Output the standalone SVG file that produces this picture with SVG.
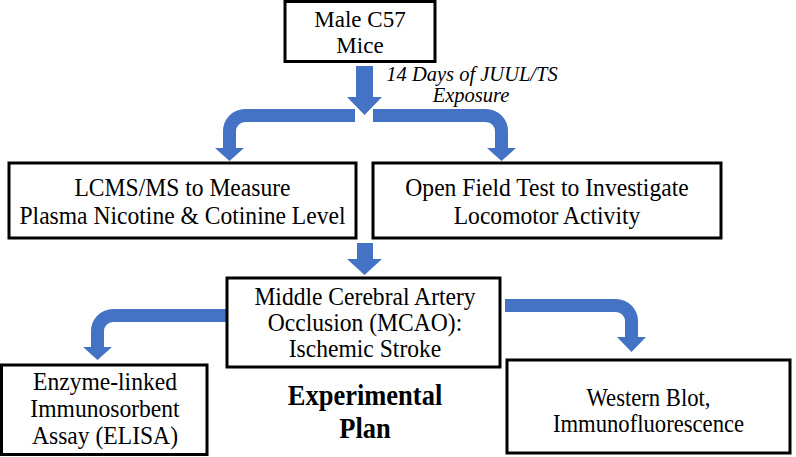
<svg xmlns="http://www.w3.org/2000/svg" width="796" height="457" viewBox="0 0 796 457">
<style>
.box{fill:#fff;stroke:#000;stroke-width:3}
.arr{fill:#4472C4;stroke:none}
text{font-family:'Liberation Serif','Times New Roman',Times,serif;fill:#000;text-anchor:middle}
.t{font-size:25.5px}
.w{font-size:24.5px}
.top{font-size:23px}
.it{font-size:20.5px;font-style:italic}
.b{font-size:28.5px;font-weight:bold}
</style>
<rect width="796" height="457" fill="#fff"/>
<g id="connectors">
<path class="arr" d="M356,66 H373 V97 H382 L364.5,115 L347,97 H356 Z"/>
<path class="arr" d="M355,109 H245 A22,22 0 0 0 223,131 V148 H215 L229.5,161 L244,148 H236 V131 A9,9 0 0 1 245,122 H355 Z"/>
<path class="arr" d="M373,109 H486 A22,22 0 0 1 508,131 V148 H516 L501.5,161 L487,148 H495 V131 A9,9 0 0 0 486,122 H373 Z"/>
<path class="arr" d="M357,243 H373 V259 H382 L364.5,275 L347,259 H357 Z"/>
<path class="arr" d="M227,309 H113 A22,22 0 0 0 91,331 V347 H83 L97.5,360 L112,347 H104 V331 A9,9 0 0 1 113,322 H227 Z"/>
<path class="arr" d="M505,299 H616 A22,22 0 0 1 638,321 V337 H646 L631.5,352 L617,337 H625 V321 A9,9 0 0 0 616,312 H505 Z"/>
<text class="it" x="472" y="81">14 Days of JUUL/TS</text>
<text class="it" x="471" y="102">Exposure</text>
</g>
<g id="mice">
<rect class="box" x="285" y="1.5" width="150" height="60"/>
<text class="top" x="360" y="27">Male C57</text>
<text class="top" x="360" y="53">Mice</text>
</g>
<g id="lcms">
<rect class="box" x="9" y="163" width="347" height="75"/>
<text class="t" transform="translate(182.5,196) scale(0.925,1)">LCMS/MS to Measure</text>
<text class="t" transform="translate(182.5,224) scale(0.925,1)">Plasma Nicotine &amp; Cotinine Level</text>
</g>
<g id="openfield">
<rect class="box" x="373" y="163" width="348" height="75"/>
<text class="t" transform="translate(547,196) scale(0.925,1)">Open Field Test to Investigate</text>
<text class="t" transform="translate(547,224) scale(0.925,1)">Locomotor Activity</text>
</g>
<g id="mcao">
<rect class="box" x="227" y="278" width="273" height="89"/>
<text class="t" transform="translate(365,305) scale(0.925,1)">Middle Cerebral Artery</text>
<text class="t" transform="translate(365,331) scale(0.925,1)">Occlusion (MCAO):</text>
<text class="t" transform="translate(365,357) scale(0.925,1)">Ischemic Stroke</text>
</g>
<g id="elisa">
<rect class="box" x="1.5" y="365" width="205.5" height="89.5"/>
<text class="t" transform="translate(105,390) scale(0.925,1)">Enzyme-linked</text>
<text class="t" transform="translate(105,417) scale(0.925,1)">Immunosorbent</text>
<text class="t" transform="translate(105,444) scale(0.925,1)">Assay (ELISA)</text>
</g>
<g id="western">
<rect class="box" x="507" y="360" width="283" height="93"/>
<text class="w" transform="translate(648.5,406) scale(0.925,1)">Western Blot,</text>
<text class="w" transform="translate(648.5,432) scale(0.925,1)">Immunofluorescence</text>
</g>
<g id="title">
<text class="b" transform="translate(365,405) scale(0.93,1)">Experimental</text>
<text class="b" transform="translate(365,438) scale(0.93,1)">Plan</text>
</g>
</svg>
